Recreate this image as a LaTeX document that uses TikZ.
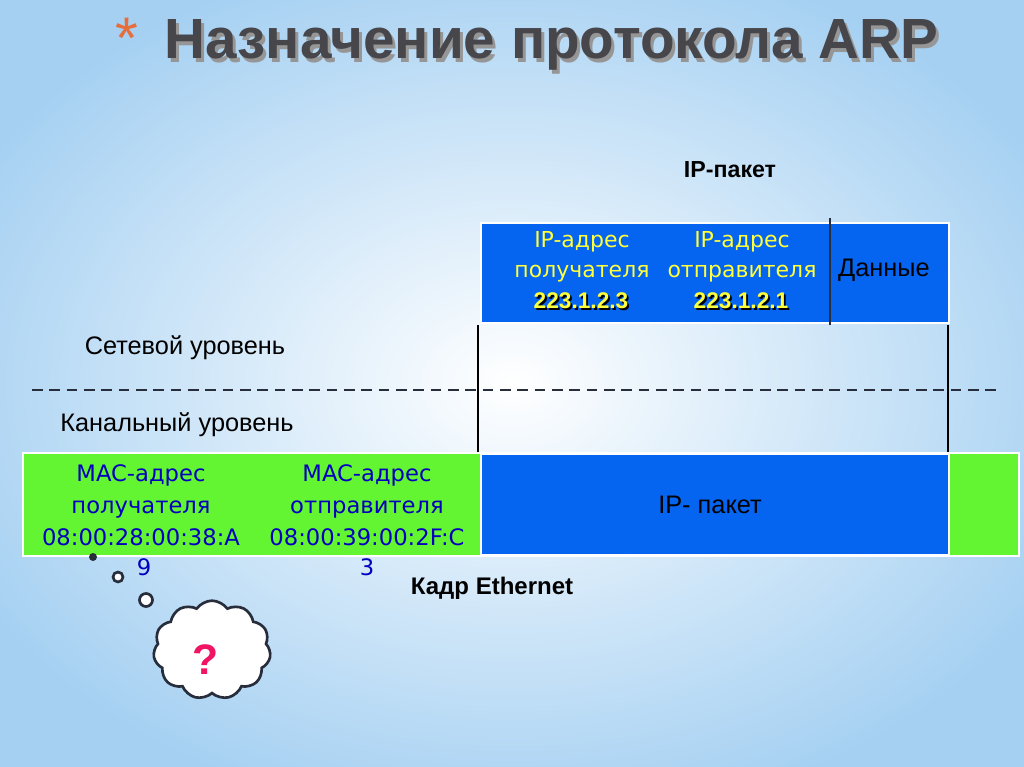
\documentclass[tikz,border=0pt]{standalone}
\usepackage{fontspec}
\setmainfont{Liberation Sans}
\newfontfamily\dv{DejaVu Sans}
\usetikzlibrary{shapes.symbols}
\definecolor{bg}{RGB}{165,208,242}
\definecolor{ipblue}{RGB}{5,100,240}
\definecolor{grn}{RGB}{100,245,50}
\definecolor{yl}{RGB}{255,255,60}
\definecolor{mblue}{RGB}{0,0,190}
\definecolor{dk}{RGB}{40,45,60}
\definecolor{ttl}{RGB}{70,70,75}
\definecolor{ttlsh}{RGB}{150,150,150}
\definecolor{ast}{RGB}{230,110,60}
\definecolor{pink}{RGB}{240,20,100}
\begin{document}
\begin{tikzpicture}[x=0.75pt,y=-0.75pt,
  bluebox/.style={fill=ipblue,draw=white,line width=1.5pt},
  greenbox/.style={fill=grn,draw=white,line width=1.5pt},
  yel/.style={text=yl,font=\dv\fontsize{16.5}{22.5}\selectfont,align=center},
  num/.style={font=\bfseries\fontsize{17}{20}\selectfont},
  mac/.style={text=mblue,font=\dv\fontsize{17}{24}\selectfont,align=center},
  lbl/.style={font=\fontsize{19}{22}\selectfont},
  bub/.style={draw=dk,line width=2pt,fill=white}]
\useasboundingbox (0,0) rectangle (1024,767);
\shade[inner color=white,outer color=bg] (-100,-60) rectangle (1124,827);
% title
\node[text=ttlsh,font=\bfseries\fontsize{42.5}{45}\selectfont,anchor=west] at (163,49) {Назначение протокола ARP};
\node[text=ttl,font=\bfseries\fontsize{42.5}{45}\selectfont,anchor=west] (title) at (160,45) {Назначение протокола ARP};
\node[text=ast,font=\fontsize{44}{44}\selectfont] (asterisk) at (127,38) {*};
% IP packet
\node[font=\bfseries\fontsize{17.4}{20}\selectfont] (iplbl) at (730,170) {IP-пакет};
\node[bluebox,minimum width=351pt,minimum height=75pt,anchor=north west] (ipbox) at (480,222) {};
\draw[line width=2.2pt,dk] (830,218) coordinate (s1) -- (830,325) coordinate (s2);
\node[yel] (dst) at (582,257) {IP-адрес\\получателя};
\node[yel] (src) at (742,257) {IP-адрес\\отправителя};
\node[num,text=black] at (582.8,302.8) {223.1.2.3};
\node[num,text=yl] (dstn) at (581,301) {223.1.2.3};
\node[num,text=black] at (742.8,302.8) {223.1.2.1};
\node[num,text=yl] (srcn) at (741,301) {223.1.2.1};
\node[lbl] (data) at (884,270) {Данные};
\draw[line width=0.8pt] (478,325) coordinate (a1) -- (478,452) coordinate (a2);
\draw[line width=0.8pt] (948,325) coordinate (b1) -- (948,452) coordinate (b2);
\draw[line width=1pt,dash pattern=on 8pt off 5pt,dk] (32,390) coordinate (d1) -- (1000,390) coordinate (d2);
\node[lbl] (net) at (185,348) {Сетевой уровень};
\node[lbl] (link) at (177,425) {Канальный уровень};
% frame
\node[greenbox,minimum width=747pt,minimum height=77pt,anchor=north west] (frame) at (22,452) {};
\node[bluebox,minimum width=351pt,minimum height=76pt,anchor=north west] (pl) at (480,453) {};
\node[lbl] (plt) at (710,505) {IP- пакет};
\node[mac] (m1) at (141,505) {MAC-адрес\\получателя\\08:00:28:00:38:A};
\node[mac] (m2) at (367,505) {MAC-адрес\\отправителя\\08:00:39:00:2F:C};
\node[mac] (m1b) at (144,567) {9};
\node[mac] (m2b) at (367,567) {3};
\node[font=\bfseries\fontsize{18}{20}\selectfont] (eth) at (492,588) {Кадр Ethernet};
% bubbles
\fill[dk] (93,557) circle (4);
\draw[bub] (118,577) circle (5);
\draw[bub] (146,600) circle (6.5);
\node[cloud,cloud puffs=11,cloud puff arc=110,aspect=1.3,bub,minimum width=88pt,minimum height=74pt] (cl) at (212,650) {};
\node[text=pink,font=\bfseries\fontsize{32}{34}\selectfont] (q) at (206,660) {?};
\end{tikzpicture}
\end{document}
